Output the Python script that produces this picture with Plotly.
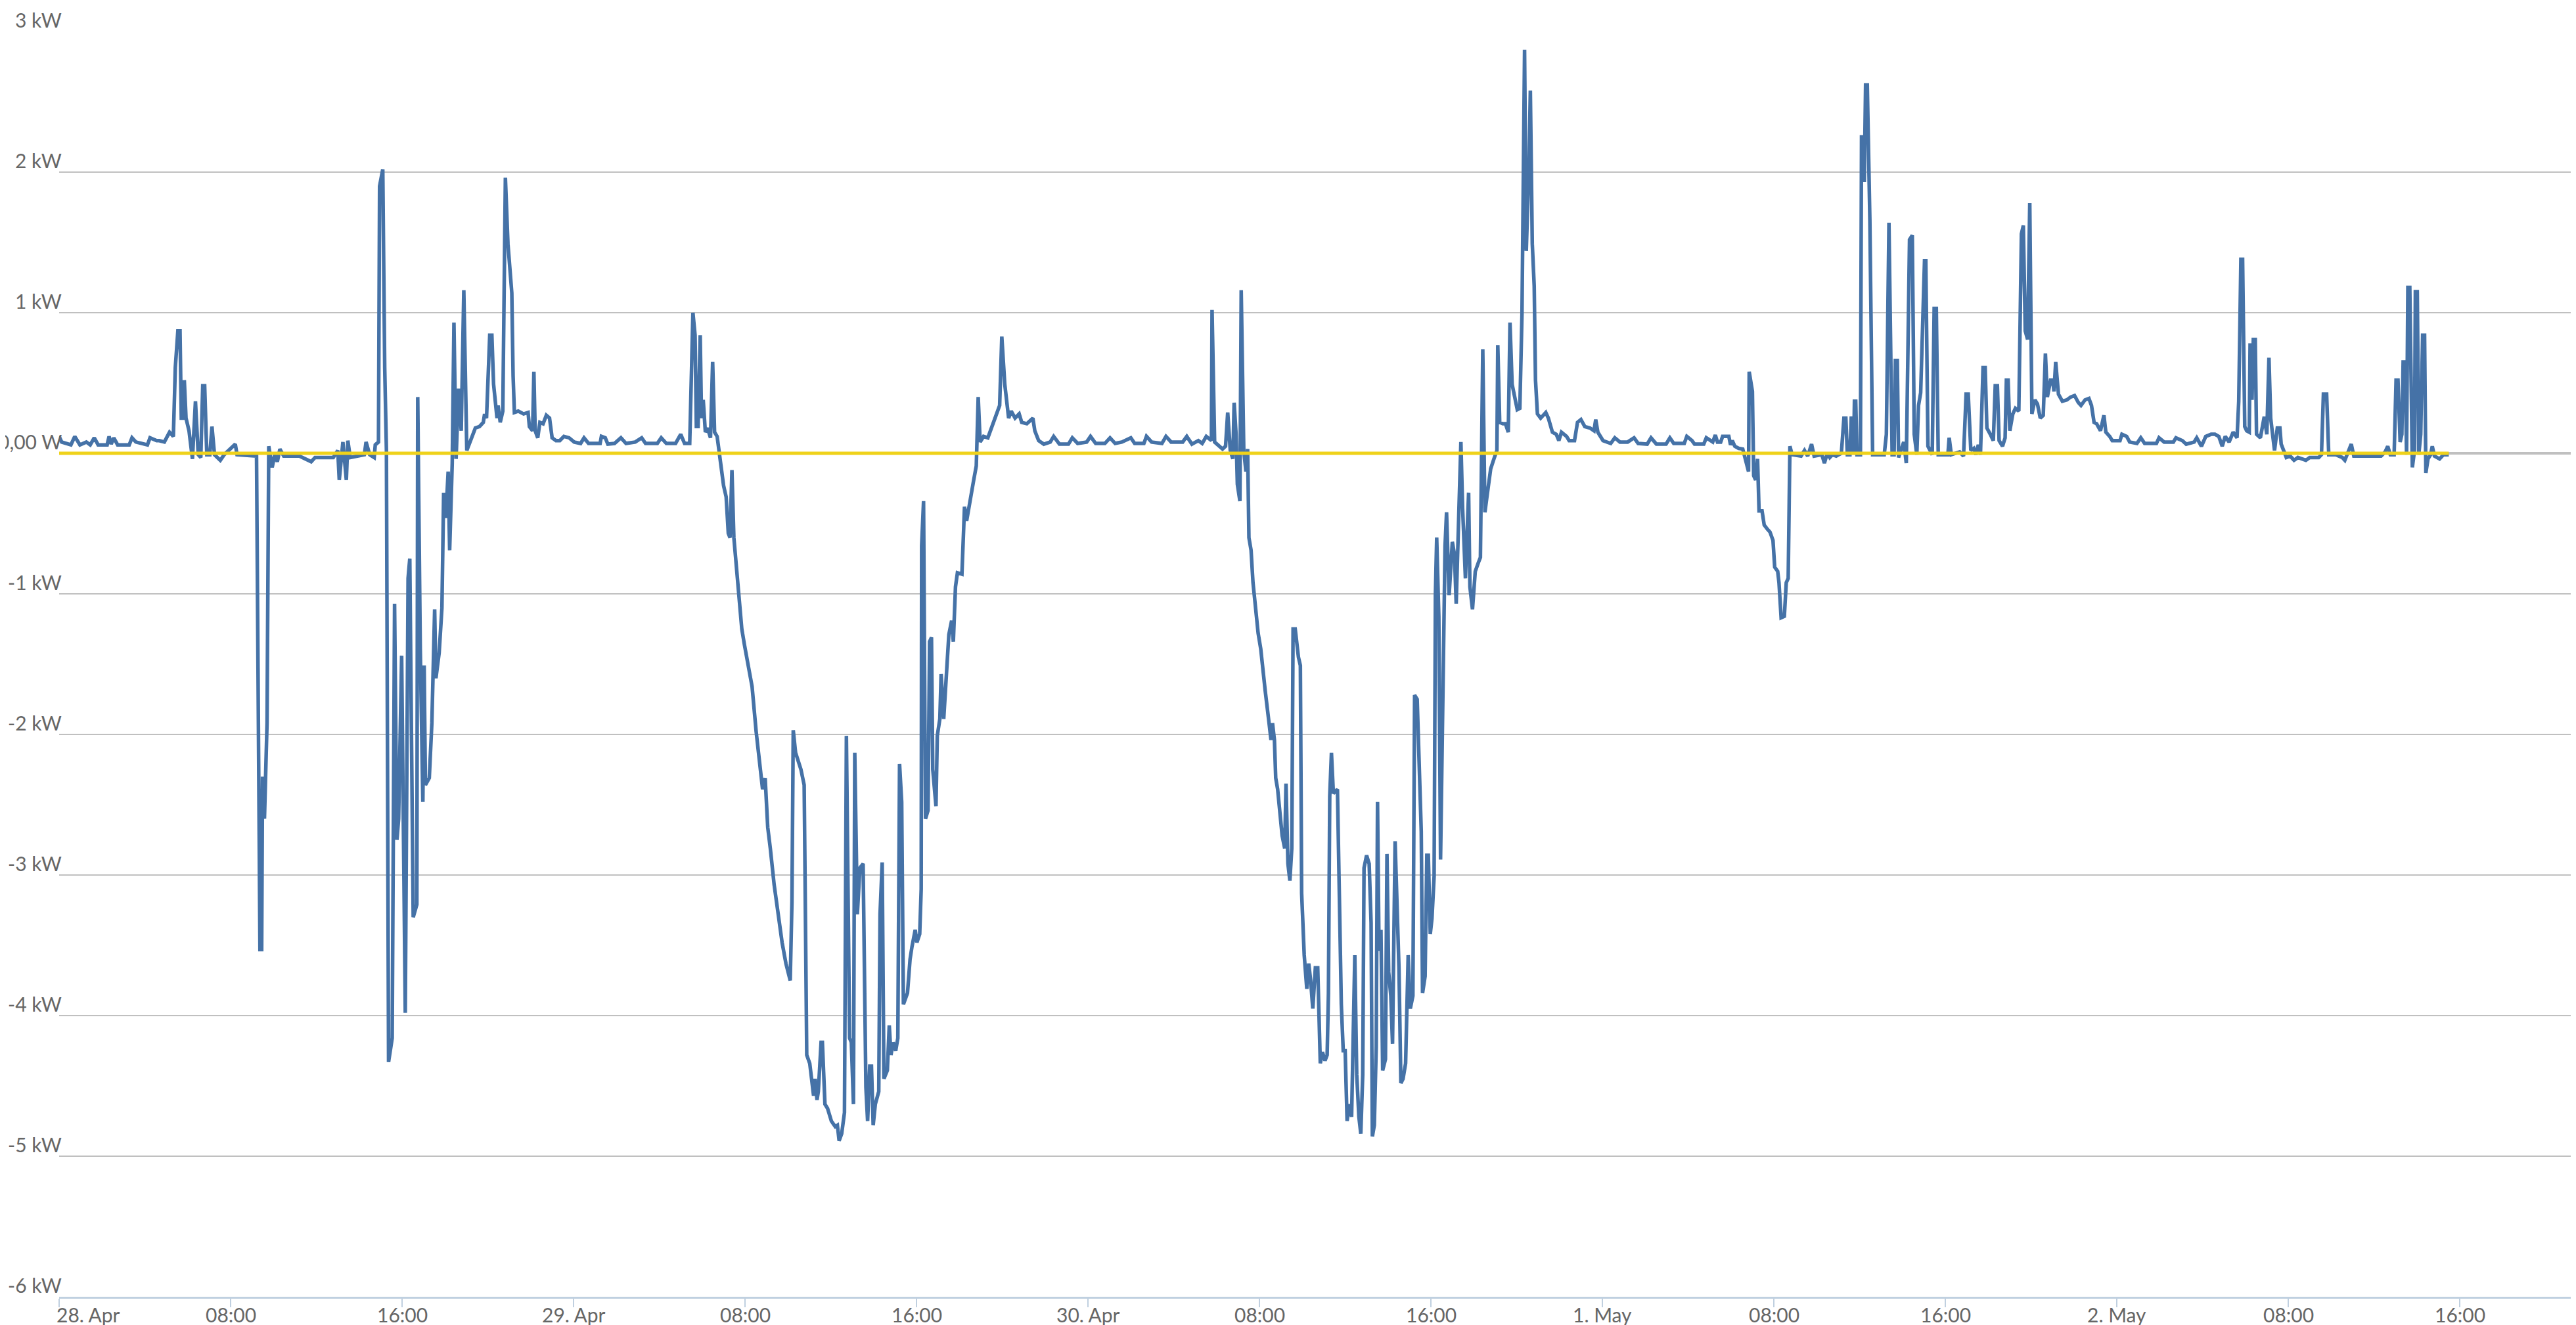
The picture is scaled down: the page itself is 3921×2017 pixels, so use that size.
import pandas as pd
import plotly.graph_objects as go

# ---------------- data (power in kW, time = hours after midnight of each day) -------------
day_dates = ["2013-04-28", "2013-04-29", "2013-04-30", "2013-05-01", "2013-05-02"]

hours_apr28 = [0.00, 0.12, 0.55, 0.73, 0.97, 1.27, 1.45, 1.64, 1.82, 2.24, 2.33, 2.43, 2.55, 2.73, 3.27, 3.40, 3.58,
               4.12, 4.24, 4.55, 4.67, 4.91, 5.15, 5.33, 5.42, 5.54, 5.64, 5.70, 5.79, 5.84, 5.92, 6.06, 6.22, 6.36,
               6.49, 6.61, 6.70, 6.79, 6.89, 7.03, 7.13, 7.25, 7.52, 7.70, 8.22, 8.30, 9.21, 9.30, 9.37, 9.45, 9.49,
               9.58, 9.70, 9.78, 9.94, 10.06, 10.18, 10.30, 10.48, 11.21, 11.76, 11.94, 12.79, 13.00, 13.07, 13.24,
               13.40, 13.47, 13.58, 14.24, 14.32, 14.49, 14.70, 14.75, 14.90, 14.95, 15.10, 15.19, 15.27, 15.37,
               15.54, 15.65, 15.76, 15.84, 15.98, 16.15, 16.28, 16.36, 16.52, 16.69, 16.73, 16.85, 16.97, 17.03,
               17.09, 17.27, 17.39, 17.52, 17.58, 17.73, 17.86, 17.94, 18.04, 18.15, 18.22, 18.34, 18.42, 18.52,
               18.64, 18.76, 18.88, 19.02, 19.24, 19.42, 19.61, 19.79, 19.85, 19.94, 20.09, 20.19, 20.27, 20.43,
               20.48, 20.58, 20.70, 20.82, 20.94, 21.12, 21.18, 21.24, 21.42, 21.55, 21.67, 21.88, 21.94, 22.09,
               22.15, 22.21, 22.33, 22.43, 22.58, 22.73, 22.88, 23.00, 23.18, 23.36, 23.55, 23.79]
kw_apr28 = [0.12, 0.08, 0.06, 0.12, 0.06, 0.08, 0.06, 0.11, 0.06, 0.06, 0.12, 0.065, 0.11, 0.06, 0.06, 0.11, 0.08,
            0.06, 0.11, 0.09, 0.09, 0.08, 0.15, 0.12, 0.61, 0.87, 0.87, 0.25, 0.25, 0.52, 0.25, 0.16, -0.04, 0.37,
            -0.01, -0.03, 0.48, 0.48, -0.01, -0.01, 0.19, -0.01, -0.05, -0.01, 0.065, -0.01, -0.02, -2.34, -3.53,
            -3.53, -2.30, -2.60, -1.92, 0.05, -0.10, -0.01, -0.06, 0.03, -0.02, -0.02, -0.06, -0.03, -0.03, 0.02,
            -0.19, 0.08, -0.19, 0.09, -0.03, -0.01, 0.08, -0.01, -0.03, 0.06, 0.08, 1.90, 2.02, 0.61, 0.02, -4.33,
            -4.16, -1.07, -2.75, -2.60, -1.44, -3.98, -0.89, -0.75, -3.30, -3.21, 0.40, -1.39, -2.48, -1.51, -2.36,
            -2.31, -1.92, -1.11, -1.60, -1.42, -1.10, -0.28, -0.46, -0.13, -0.69, -0.07, 0.93, -0.04, 0.46, 0.16,
            1.16, 0.02, 0.11, 0.18, 0.19, 0.22, 0.28, 0.25, 0.84, 0.84, 0.49, 0.25, 0.34, 0.22, 0.30, 1.96, 1.49,
            1.14, 0.55, 0.29, 0.30, 0.29, 0.28, 0.29, 0.19, 0.16, 0.58, 0.16, 0.11, 0.22, 0.21, 0.27, 0.25, 0.11,
            0.09, 0.09, 0.12, 0.11]

hours_apr29 = [0.03, 0.33, 0.49, 0.70, 1.24, 1.30, 1.48, 1.60, 1.91, 2.21, 2.45, 2.88, 3.18, 3.36, 3.91, 4.09, 4.33,
               4.76, 5.00, 5.18, 5.42, 5.57, 5.67, 5.73, 5.81, 5.91, 5.97, 6.05, 6.15, 6.25, 6.39, 6.49, 6.58, 6.70,
               6.79, 6.88, 7.00, 7.12, 7.22, 7.30, 7.39, 7.48, 7.67, 7.85, 7.97, 8.09, 8.19, 8.33, 8.52, 8.70, 8.82,
               8.94, 9.06, 9.18, 9.36, 9.55, 9.73, 9.91, 10.11, 10.19, 10.25, 10.36, 10.61, 10.76, 10.88, 11.02,
               11.12, 11.20, 11.27, 11.36, 11.42, 11.55, 11.61, 11.73, 11.85, 12.03, 12.21, 12.31, 12.39, 12.51,
               12.64, 12.73, 12.88, 12.96, 13.06, 13.12, 13.24, 13.36, 13.51, 13.64, 13.72, 13.82, 13.90, 13.98,
               14.08, 14.24, 14.30, 14.40, 14.48, 14.64, 14.73, 14.81, 14.91, 15.03, 15.13, 15.21, 15.31, 15.39,
               15.58, 15.70, 15.79, 15.94, 16.02, 16.15, 16.22, 16.24, 16.33, 16.42, 16.54, 16.61, 16.70, 16.76,
               16.91, 16.97, 17.09, 17.15, 17.27, 17.39, 17.51, 17.64, 17.72, 17.82, 17.91, 18.12, 18.24, 18.34,
               18.48, 18.67, 18.79, 18.88, 18.97, 19.13, 19.33, 19.51, 19.70, 19.88, 19.98, 20.12, 20.30, 20.42,
               20.60, 20.79, 20.91, 21.15, 21.43, 21.52, 21.70, 21.94, 22.24, 22.40, 22.67, 23.09, 23.27, 23.52,
               23.94]
kw_apr29 = [0.08, 0.07, 0.11, 0.07, 0.07, 0.12, 0.11, 0.065, 0.07, 0.11, 0.07, 0.08, 0.11, 0.07, 0.07, 0.11, 0.07,
            0.07, 0.135, 0.07, 0.07, 1.00, 0.84, 0.19, 0.19, 0.84, 0.25, 0.38, 0.15, 0.18, 0.11, 0.65, 0.15, 0.12,
            0.02, -0.07, -0.23, -0.31, -0.57, -0.60, -0.12, -0.60, -0.92, -1.25, -1.36, -1.45, -1.54, -1.66, -1.98,
            -2.25, -2.39, -2.31, -2.66, -2.81, -3.07, -3.28, -3.48, -3.63, -3.75, -3.19, -1.97, -2.13, -2.25, -2.36,
            -4.28, -4.34, -4.45, -4.57, -4.45, -4.60, -4.54, -4.19, -4.19, -4.63, -4.66, -4.75, -4.79, -4.78, -4.89,
            -4.84, -4.69, -2.01, -4.16, -4.19, -4.63, -2.13, -3.28, -2.95, -2.92, -4.51, -4.75, -4.36, -4.36, -4.78,
            -4.63, -4.54, -3.28, -2.91, -4.45, -4.39, -4.07, -4.28, -4.19, -4.25, -4.16, -2.21, -2.48, -3.92, -3.84,
            -3.60, -3.51, -3.39, -3.48, -3.42, -3.10, -0.66, -0.34, -2.60, -2.54, -1.34, -1.31, -2.25, -2.51, -2.01,
            -1.89, -1.57, -1.89, -1.63, -1.29, -1.19, -1.34, -0.95, -0.85, -0.86, -0.38, -0.48, -0.34, -0.19, -0.09,
            0.40, 0.08, 0.12, 0.11, 0.19, 0.26, 0.34, 0.83, 0.49, 0.25, 0.30, 0.25, 0.28, 0.22, 0.21, 0.25, 0.16,
            0.09, 0.065, 0.08, 0.12, 0.065, 0.065, 0.11, 0.07, 0.08]

hours_apr30 = [0.12, 0.36, 0.79, 1.03, 1.27, 1.58, 1.70, 2.00, 2.18, 2.61, 2.73, 2.97, 3.45, 3.64, 3.88, 4.42, 4.61,
               4.85, 5.03, 5.15, 5.33, 5.52, 5.76, 5.79, 5.91, 6.06, 6.28, 6.42, 6.52, 6.64, 6.76, 6.82, 6.91, 6.97,
               7.09, 7.15, 7.27, 7.37, 7.45, 7.51, 7.61, 7.70, 7.82, 7.94, 8.06, 8.18, 8.27, 8.45, 8.54, 8.61, 8.70,
               8.76, 8.85, 9.06, 9.18, 9.24, 9.33, 9.42, 9.51, 9.57, 9.67, 9.82, 9.91, 9.97, 10.09, 10.21, 10.30,
               10.39, 10.49, 10.61, 10.72, 10.84, 10.94, 11.06, 11.16, 11.22, 11.28, 11.36, 11.45, 11.64, 11.73,
               11.82, 11.91, 12.00, 12.09, 12.19, 12.30, 12.37, 12.45, 12.54, 12.64, 12.73, 12.82, 12.88, 13.00,
               13.12, 13.21, 13.27, 13.36, 13.45, 13.51, 13.58, 13.67, 13.75, 13.88, 13.95, 14.03, 14.13, 14.21,
               14.33, 14.43, 14.51, 14.60, 14.70, 14.82, 14.94, 15.04, 15.16, 15.24, 15.36, 15.55, 15.61, 15.73,
               15.81, 15.88, 15.97, 16.05, 16.15, 16.21, 16.27, 16.37, 16.45, 16.58, 16.66, 16.73, 16.85, 17.00,
               17.10, 17.18, 17.30, 17.40, 17.48, 17.61, 17.76, 17.82, 17.94, 18.07, 18.21, 18.31, 18.42, 18.52,
               18.64, 18.79, 18.94, 19.08, 19.12, 19.21, 19.36, 19.48, 19.61, 19.69, 19.79, 20.03, 20.15, 20.25,
               20.37, 20.45, 20.58, 20.64, 20.73, 20.82, 20.88, 20.97, 21.12, 21.24, 21.36, 21.48, 21.67, 21.85,
               21.97, 22.09, 22.33, 22.45, 22.70, 22.84, 23.00, 23.18, 23.42, 23.61, 23.69, 23.79]
kw_apr30 = [0.12, 0.07, 0.07, 0.11, 0.07, 0.08, 0.09, 0.11, 0.07, 0.07, 0.12, 0.08, 0.07, 0.12, 0.08, 0.08, 0.12,
            0.065, 0.08, 0.09, 0.07, 0.12, 0.09, 1.02, 0.08, 0.06, 0.03, 0.05, 0.29, 0.02, -0.04, 0.36, 0.135, -0.22,
            -0.34, 1.16, 0.02, -0.13, 0.03, -0.60, -0.69, -0.92, -1.13, -1.28, -1.39, -1.60, -1.69, -1.92, -2.04,
            -1.92, -2.04, -2.31, -2.39, -2.72, -2.81, -2.35, -2.92, -3.04, -2.81, -1.25, -1.25, -1.45, -1.51, -3.13,
            -3.57, -3.81, -3.63, -3.75, -3.95, -3.66, -3.66, -4.34, -4.26, -4.32, -4.28, -3.84, -2.44, -2.13, -2.42,
            -2.39, -3.22, -3.92, -4.25, -4.25, -4.75, -4.63, -4.72, -4.28, -3.57, -4.42, -4.72, -4.84, -4.42, -2.95,
            -2.86, -2.92, -3.34, -4.86, -4.78, -4.22, -2.48, -3.54, -3.39, -4.39, -4.31, -2.85, -3.69, -3.86, -4.20,
            -2.76, -3.36, -3.66, -4.48, -4.45, -4.34, -3.57, -3.95, -3.86, -1.72, -1.75, -2.69, -3.84, -3.72, -2.86,
            -2.86, -3.42, -3.31, -3.01, -1.01, -0.60, -1.16, -2.89, -1.51, -0.66, -0.42, -1.01, -0.63, -0.72, -1.07,
            -0.39, 0.08, -0.39, -0.89, -0.28, -0.95, -1.11, -0.84, -0.78, -0.74, 0.74, -0.42, -0.28, -0.11, -0.04,
            0.02, 0.77, 0.22, 0.21, 0.21, 0.15, 0.93, 0.49, 0.31, 0.32, 0.99, 2.87, 1.44, 2.08, 2.58, 1.49, 1.19,
            0.52, 0.28, 0.25, 0.27, 0.29, 0.25, 0.15, 0.135, 0.09, 0.15, 0.12, 0.09, 0.09, 0.22, 0.24, 0.19, 0.18,
            0.16, 0.24, 0.15]

hours_may01 = [0.03, 0.39, 0.58, 0.82, 1.18, 1.48, 1.67, 2.09, 2.27, 2.52, 2.97, 3.15, 3.33, 3.82, 3.94, 4.18, 4.30,
               4.73, 4.85, 5.15, 5.27, 5.37, 5.52, 5.61, 5.76, 5.90, 5.98, 6.06, 6.18, 6.36, 6.55, 6.67, 6.82, 6.85,
               7.00, 7.06, 7.15, 7.24, 7.31, 7.45, 7.55, 7.70, 7.82, 7.96, 8.04, 8.18, 8.24, 8.34, 8.49, 8.58, 8.67,
               8.75, 8.85, 9.27, 9.43, 9.58, 9.76, 9.88, 10.24, 10.36, 10.49, 10.61, 10.73, 10.91, 11.15, 11.27,
               11.36, 11.43, 11.55, 11.61, 11.67, 11.72, 11.76, 11.82, 11.88, 12.04, 12.09, 12.16, 12.22, 12.28,
               12.36, 12.48, 12.61, 13.15, 13.25, 13.37, 13.52, 13.61, 13.67, 13.76, 13.82, 14.06, 14.18, 14.33,
               14.46, 14.55, 14.67, 14.75, 14.85, 15.03, 15.09, 15.19, 15.39, 15.48, 15.58, 15.67, 15.82, 16.12,
               16.18, 16.28, 16.67, 16.85, 16.97, 17.07, 17.19, 17.33, 17.43, 17.54, 17.64, 17.76, 17.86, 17.94,
               18.10, 18.24, 18.33, 18.43, 18.51, 18.67, 18.79, 18.85, 18.93, 19.01, 19.15, 19.27, 19.43, 19.55,
               19.64, 19.73, 19.84, 19.94, 20.04, 20.18, 20.30, 20.43, 20.57, 20.67, 20.76, 20.91, 21.01, 21.07,
               21.15, 21.28, 21.46, 21.67, 21.85, 22.03, 22.21, 22.33, 22.52, 22.70, 22.82, 22.94, 23.06, 23.24,
               23.40, 23.49, 23.67, 23.79]
kw_may01 = [0.09, 0.07, 0.11, 0.08, 0.08, 0.11, 0.07, 0.065, 0.11, 0.065, 0.065, 0.11, 0.07, 0.07, 0.12, 0.09, 0.065,
            0.065, 0.11, 0.08, 0.13, 0.08, 0.08, 0.12, 0.12, 0.12, 0.06, 0.09, 0.05, 0.035, 0.03, -0.04, -0.13, 0.58,
            0.44, -0.16, -0.19, -0.04, -0.41, -0.41, -0.51, -0.54, -0.56, -0.62, -0.81, -0.84, -0.92, -1.17, -1.16,
            -0.92, -0.89, 0.05, -0.01, -0.02, 0.02, -0.02, 0.065, -0.02, -0.01, -0.07, 0.0, -0.03, -0.01, -0.02, 0.0,
            0.25, 0.25, -0.01, -0.01, 0.25, 0.25, -0.01, 0.37, 0.37, -0.01, -0.01, 2.25, 2.25, 1.93, 2.62, 2.62,
            1.66, -0.01, -0.01, 0.135, 1.64, -0.01, -0.01, 0.66, 0.66, -0.03, 0.08, -0.07, 1.52, 1.55, 0.135, -0.01,
            0.34, 0.43, 1.37, 1.37, 0.05, -0.01, 1.03, 1.03, -0.01, -0.01, -0.01, 0.11, -0.01, 0.01, -0.02, 0.42,
            0.42, 0.02, 0.035, -0.01, 0.06, -0.01, 0.61, 0.61, 0.18, 0.135, 0.09, 0.48, 0.48, 0.09, 0.05, 0.11, 0.52,
            0.52, 0.16, 0.28, 0.32, 0.30, 1.56, 1.62, 0.87, 0.81, 1.78, 0.28, 0.38, 0.35, 0.25, 0.27, 0.71, 0.40,
            0.52, 0.52, 0.44, 0.65, 0.42, 0.37, 0.38, 0.40, 0.41, 0.36, 0.34, 0.38, 0.39, 0.34, 0.22, 0.21, 0.16,
            0.27, 0.15, 0.12, 0.09]

hours_may02 = [0.15, 0.24, 0.46, 0.60, 0.94, 1.12, 1.30, 1.85, 1.97, 2.21, 2.64, 2.76, 3.06, 3.24, 3.61, 3.73, 3.95,
               4.15, 4.40, 4.58, 4.76, 4.92, 5.06, 5.24, 5.43, 5.61, 5.69, 5.79, 5.87, 5.97, 6.06, 6.18, 6.22, 6.27,
               6.31, 6.37, 6.46, 6.52, 6.70, 6.82, 6.88, 7.00, 7.10, 7.18, 7.27, 7.36, 7.49, 7.61, 7.67, 7.83, 7.91,
               8.09, 8.27, 8.45, 8.82, 9.00, 9.42, 9.55, 9.64, 9.79, 9.89, 10.21, 10.52, 10.64, 10.82, 10.94, 11.06,
               11.49, 11.97, 12.33, 12.52, 12.64, 12.76, 12.94, 13.03, 13.12, 13.22, 13.30, 13.36, 13.45, 13.52,
               13.58, 13.67, 13.79, 13.89, 13.93, 14.02, 14.09, 14.18, 14.27, 14.36, 14.42, 14.52, 14.64, 14.72,
               14.82, 15.06, 15.24, 15.49]
kw_may02 = [0.09, 0.135, 0.12, 0.08, 0.07, 0.11, 0.07, 0.07, 0.11, 0.08, 0.08, 0.11, 0.09, 0.065, 0.08, 0.11, 0.05,
            0.12, 0.135, 0.135, 0.12, 0.05, 0.12, 0.08, 0.15, 0.11, 0.37, 1.38, 1.38, 0.19, 0.16, 0.15, 0.77, 0.77,
            0.38, 0.81, 0.81, 0.135, 0.11, 0.22, 0.26, 0.135, 0.68, 0.25, 0.11, 0.02, 0.18, 0.18, 0.065, 0.01, -0.03,
            -0.02, -0.05, -0.03, -0.05, -0.03, -0.03, -0.01, 0.42, 0.42, -0.01, -0.01, -0.03, -0.05, 0.02, 0.065,
            -0.02, -0.02, -0.02, -0.02, 0.01, 0.05, -0.01, -0.01, 0.52, 0.52, 0.08, 0.135, 0.65, 0.65, -0.01, 1.18,
            1.18, -0.10, 0.02, 1.15, 1.15, -0.01, 0.135, 0.84, 0.84, -0.14, -0.04, -0.01, 0.05, -0.02, -0.04, -0.01,
            -0.01]

y_tick_values = [3, 2, 1, 0, -1, -2, -3, -4, -5, -6]
y_tick_labels = ["3 kW", "2 kW", "1 kW", "0,00 W", "-1 kW", "-2 kW", "-3 kW", "-4 kW", "-5 kW", "-6 kW"]
x_tick_hours = [0, 8, 16, 24, 32, 40, 48, 56, 64, 72, 80, 88, 96, 104, 112]
x_tick_labels = ["28. Apr", "08:00", "16:00", "29. Apr", "08:00", "16:00", "30. Apr", "08:00", "16:00",
                 "1. May", "08:00", "16:00", "2. May", "08:00", "16:00"]

# ---------------- build series ----------------
day_hours = [hours_apr28, hours_apr29, hours_apr30, hours_may01, hours_may02]
day_kw = [kw_apr28, kw_apr29, kw_apr30, kw_may01, kw_may02]
times, power = [], []
for d, hs, vs in zip(day_dates, day_hours, day_kw):
    base = pd.Timestamp(d)
    times += [base + pd.Timedelta(hours=h) for h in hs]
    power += vs

t0 = pd.Timestamp(day_dates[0])
tick_times = [t0 + pd.Timedelta(hours=h) for h in x_tick_hours]

BLUE = "#4572A7"
YELLOW = "#EFD21A"
LABEL = "#666666"
FONT = "Lato"

fig = go.Figure()
fig.add_trace(go.Scatter(x=times, y=power, mode="lines",
                         line=dict(color=BLUE, width=5.5), hoverinfo="skip", showlegend=False))
fig.add_trace(go.Scatter(x=[t0, times[-1]], y=[0, 0], mode="lines",
                         line=dict(color=YELLOW, width=5), hoverinfo="skip", showlegend=False))

annotations = []
for v, lab in zip(y_tick_values, y_tick_labels):
    annotations.append(dict(x=0, xref="paper", y=v, yref="y", text=lab, showarrow=False,
                            xanchor="right", yanchor="bottom", xshift=6, yshift=-2,
                            font=dict(family=FONT, size=30, color=LABEL)))
for i, (t, lab) in enumerate(zip(tick_times, x_tick_labels)):
    annotations.append(dict(x=t, xref="x", y=0, yref="paper", text=lab, showarrow=False,
                            xanchor="left" if i == 0 else "center", yanchor="top",
                            xshift=-6 if i == 0 else 0, yshift=-7,
                            font=dict(family=FONT, size=30, color=LABEL)))

fig.update_layout(
    width=3921, height=2017,
    margin=dict(l=82, r=0, t=40, b=51),
    paper_bgcolor="white", plot_bgcolor="white",
    annotations=annotations,
    xaxis=dict(range=[t0, t0 + pd.Timedelta(hours=117.67)], showgrid=False, zeroline=False,
               showline=True, linecolor="#C0D0E0", linewidth=3,
               tickmode="array", tickvals=tick_times, ticks="outside", ticklen=13, tickwidth=2,
               tickcolor="#C0D0E0", showticklabels=False),
    yaxis=dict(range=[-6, 3], tickmode="array", tickvals=y_tick_values, showticklabels=False,
               showgrid=True, gridcolor="#C0C0C0", gridwidth=2,
               zeroline=True, zerolinecolor="#C0C0C0", zerolinewidth=4, ticks=""),
)

fig.write_html("out.html")
